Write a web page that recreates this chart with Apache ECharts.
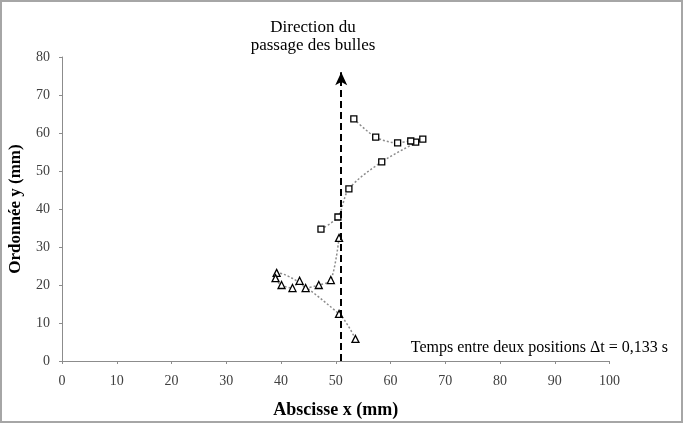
<!DOCTYPE html>
<html><head><meta charset="utf-8">
<script src="https://cdn.jsdelivr.net/npm/echarts@6/dist/echarts.min.js"></script>
<style>html,body{margin:0;padding:0;background:#fff}#c{width:683px;height:423px}</style>
</head><body><div id="c"></div>
<script>
// Bubble 1 (squares): [x mm, y mm] in time order
const squaresX = [47.3, 50.4, 52.4, 58.4, 65.9, 64.6, 63.7, 61.3, 57.3, 53.3];
const squaresY = [34.7, 37.9, 45.3, 52.4, 58.4, 57.6, 57.9, 57.4, 58.9, 63.7];
// Bubble 2 (triangles)
const trianglesX = [53.6, 50.6, 39.2, 39.0, 40.1, 42.1, 43.4, 44.5, 46.9, 49.1, 50.6];
const trianglesY = [5.8, 12.4, 23.2, 21.8, 20.0, 19.2, 21.1, 19.2, 20.0, 21.3, 32.4];
// Direction arrow
const arrowX = 51;
const arrowFromY = 0;
const arrowToY = 76;
const xTicks = [0,10,20,30,40,50,60,70,80,90,100];
const yTicks = [0,10,20,30,40,50,60,70,80];

const zip = (a,b)=>a.map((v,i)=>[v,b[i]]);
const serif = '"Liberation Serif","Times New Roman",serif';
const chart = echarts.init(document.getElementById('c'));
chart.setOption({
  animation:false,
  backgroundColor:'#fff',
  grid:{left:62,right:73.5,top:57,bottom:62,containLabel:false,outerBoundsMode:'none'},
  xAxis:{type:'value',min:xTicks[0],max:xTicks[xTicks.length-1],interval:10,
    name:'Abscisse x (mm)',nameLocation:'middle',nameGap:40,
    nameTextStyle:{fontFamily:serif,fontWeight:'bold',fontSize:18,color:'#000'},
    axisLine:{lineStyle:{color:'#8c8c8c',width:1}},
    axisTick:{show:true,length:3,lineStyle:{color:'#8c8c8c'}},
    axisLabel:{fontFamily:serif,fontSize:14,color:'#404040',margin:13},
    splitLine:{show:false}},
  yAxis:{type:'value',min:yTicks[0],max:yTicks[yTicks.length-1],interval:10,
    name:'Ordonnée y (mm)',nameLocation:'middle',nameGap:38,nameRotate:90,
    nameTextStyle:{fontFamily:serif,fontWeight:'bold',fontSize:17,color:'#000'},
    axisLine:{show:true,lineStyle:{color:'#8c8c8c',width:1}},
    axisTick:{show:true,length:3,lineStyle:{color:'#8c8c8c'}},
    axisLabel:{fontFamily:serif,fontSize:14,color:'#404040',margin:12},
    splitLine:{show:false}},
  graphic:[
    {type:'rect',shape:{x:1,y:1,width:681,height:421},style:{fill:'none',stroke:'#a6a6a6',lineWidth:2},silent:true},
    {type:'text',style:{text:'Direction du\npassage des bulles',x:313,y:19,align:'center',textAlign:'center',
      font:'17px '+serif,fill:'#000',lineHeight:18}},
    {type:'text',style:{text:'Temps entre deux positions Δt = 0,133 s',x:668,y:340,align:'right',textAlign:'right',
      font:'16px '+serif,fill:'#000'}}
  ],
  series:[
    {type:'line',data:zip(squaresX,squaresY),smooth:0.3,symbol:'rect',symbolSize:6,
      itemStyle:{color:'#fff',borderColor:'#000',borderWidth:1.3},
      lineStyle:{color:'#8c8c8c',width:1.5,type:[2,2]},z:3},
    {type:'line',data:zip(trianglesX,trianglesY),smooth:0.3,symbol:'triangle',symbolSize:7,
      itemStyle:{color:'#fff',borderColor:'#000',borderWidth:1.3},
      lineStyle:{color:'#8c8c8c',width:1.5,type:[2,2]},z:3},
    {type:'line',data:[],markLine:{silent:true,symbol:['none','arrow'],symbolSize:[9,13],
      label:{show:false},lineStyle:{color:'#000',width:2,type:[7,4]},
      data:[[{coord:[arrowX,arrowFromY]},{coord:[arrowX,arrowToY]}]]},z:2}
  ]
});
</script></body></html>
